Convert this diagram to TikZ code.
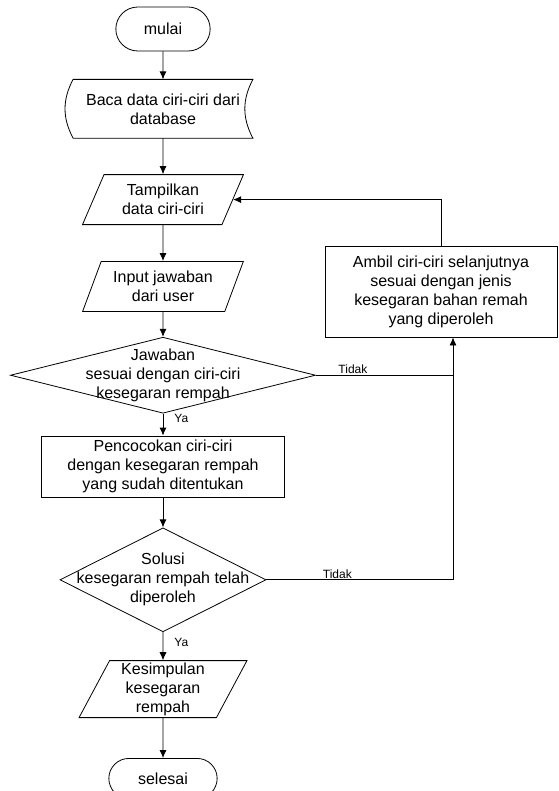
\documentclass[tikz,border=0pt]{standalone}
\usepackage{fontspec}
\setmainfont{Liberation Sans}
\usetikzlibrary{%
    arrows.meta,
    calc,
    positioning,
    shapes.geometric,
    shapes.misc
}
\tikzset{headarrow/.style = {-{Latex[length=8pt,width=7pt]}}}

\begin{document}
\begin{tikzpicture}[
    font=\fontsize{16}{19}\selectfont,
    line width=.8pt,
    terminal/.style = {rounded rectangle, draw, minimum width=101pt, minimum height=44pt},
    datastore/.style = {minimum width=179pt, minimum height=58pt, align=center, inner sep=0pt},
    io/.style = {trapezium, trapezium left angle=65, trapezium right angle=115,
        trapezium stretches=true, draw, minimum width=161pt, minimum height=50pt,
        align=center, inner sep=1pt},
    process/.style = {rectangle, draw, align=center, inner sep=0pt},
    decision/.style = {diamond, draw, inner sep=0pt},
    answer/.style = {font=\fontsize{12}{14}\selectfont, inner sep=1pt}]
    \useasboundingbox (-163pt,29pt) rectangle (395pt,-762pt);

    \node[terminal] (mulai) at (0,0) {mulai};
    \node[datastore] (baca) [below=28pt of mulai] {Baca data ciri-ciri dari\\database};
    \node[io] (tampil) [below=36pt of baca] {Tampilkan\\data ciri-ciri};
    \node[io] (input) [below=36pt of tampil] {Input jawaban\\dari user};
    \node[decision, minimum width=305pt, minimum height=76pt] (cek) [below=25pt of input] {};
    \node[align=center] (cektext) at (cek) {Jawaban\\sesuai dengan ciri-ciri\\kesegaran rempah};
    \node[process, minimum width=243pt, minimum height=61pt] (cocok) [below=22pt of cek]
        {Pencocokan ciri-ciri\\dengan kesegaran rempah\\yang sudah ditentukan};
    \node[decision, minimum width=206pt, minimum height=104pt] (solusi) [below=30pt of cocok] {};
    \node[align=center] (solusitext) at (solusi) {Solusi\\kesegaran rempah telah\\diperoleh};
    \node[io, minimum width=168pt, minimum height=57pt, trapezium left angle=66,
        trapezium right angle=114] (simpul) [below=28pt of solusi] {Kesimpulan\\kesegaran\\rempah};
    \node[terminal, minimum width=115pt, minimum height=40pt] (selesai) [below=40pt of simpul] {selesai};
    \node[process, minimum width=232pt, minimum height=91pt] (ambil) at (278pt,-262.5pt)
        {Ambil ciri-ciri selanjutnya\\sesuai dengan jenis\\kesegaran bahan remah\\yang diperoleh};
    \coordinate (belok) at ([xshift=12pt]ambil.south);

    \draw (baca.north west) to[bend right=28] (baca.south west) -- (baca.south east)
        to[bend left=28] (baca.north east) -- cycle;

    \draw[headarrow] (mulai) -- (baca);
    \draw[headarrow] (baca) -- (tampil);
    \draw[headarrow] (tampil) -- (input);
    \draw[headarrow] (input) -- (cek);
    \draw[headarrow] (cek) -- node[answer, right=10pt, pos=.2] (ya1) {Ya} (cocok);
    \draw[headarrow] (cocok) -- (solusi);
    \draw[headarrow] (solusi) -- node[answer, right=10pt, pos=.35] (ya2) {Ya} (simpul);
    \draw[headarrow] (simpul) -- (selesai);

    \draw (cek.east) -- node[answer, above, pos=.27] (tidak1) {Tidak} (cek.east -| belok);
    \draw[headarrow] (solusi.east) -| node[answer, above, pos=.19] (tidak2) {Tidak} (belok);
    \draw[headarrow] (ambil.north) |- (tampil.east);
\end{tikzpicture}
\end{document}
